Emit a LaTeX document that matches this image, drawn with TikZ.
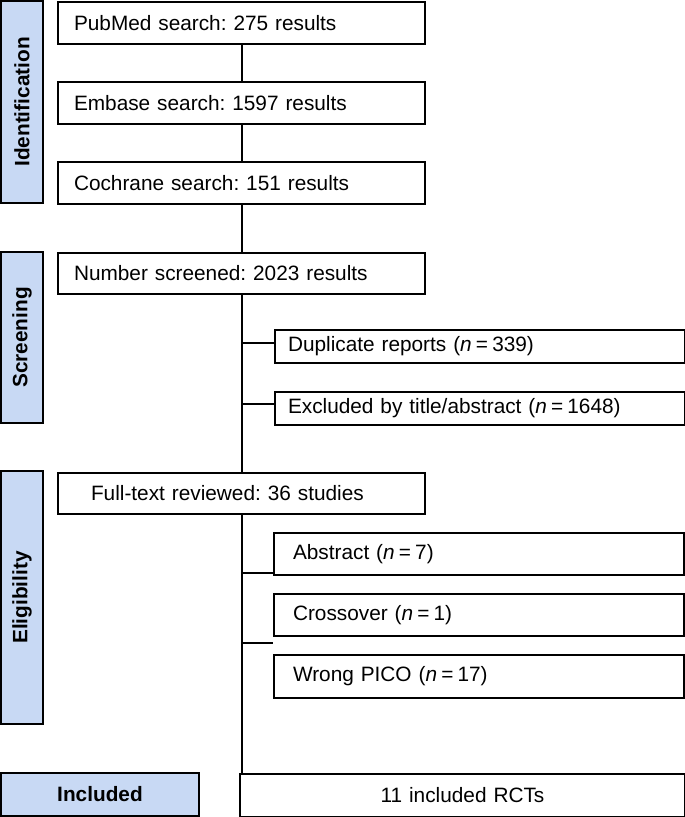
\documentclass[tikz,border=0pt]{standalone}
\usepackage{fontspec}
\setmainfont{Liberation Sans}
\frenchspacing
\definecolor{barblue}{RGB}{200,217,244}
\newcommand{\fs}{\fontsize{20.8}{25}\selectfont}
\newcommand{\nn}[1]{(\textit{n}\kern0.2em=\kern0.2em#1)}
\begin{document}
\begin{tikzpicture}[x=1pt,y=-1pt,line width=2pt,
  tbox/.style={draw=black,fill=white,rectangle,anchor=north west,inner ysep=0pt,align=left,font=\fs},
  sidebar/.style={draw=black,fill=barblue,rectangle,inner sep=0pt,font=\fs\bfseries}]
\useasboundingbox (0,0) rectangle (685,817);
% side bars
\node[sidebar,rotate=90,minimum width=202,minimum height=42] (ident) at (22,102) {Identification};
\node[sidebar,rotate=90,minimum width=171,minimum height=42] (scrn) at (22,337.5) {Screening};
\node[sidebar,rotate=90,minimum width=253,minimum height=42] (elig) at (22,597.5) {Eligibility};
\node[sidebar,minimum width=198,minimum height=43] (incl) at (100,794.5) {Included};
% main boxes
\node[tbox,minimum height=42,inner xsep=16pt,text width=335pt] (pub) at (57,1) {PubMed search: 275 results};
\node[tbox,minimum height=42,inner xsep=16pt,text width=335pt] (emb) at (57,81) {Embase search: 1597 results};
\node[tbox,minimum height=42,inner xsep=16pt,text width=335pt] (coch) at (57,161) {Cochrane search: 151 results};
\node[tbox,minimum height=41,inner xsep=16pt,text width=335pt] (scr) at (57,252) {Number screened: 2023 results};
\node[tbox,minimum height=33,inner xsep=13pt,text width=384pt] (dup) at (274,329) {Duplicate reports \nn{339}};
\node[tbox,minimum height=33,inner xsep=13pt,text width=384pt] (exc) at (274,391) {Excluded by title/abstract \nn{1648}};
\node[tbox,minimum height=41,inner xsep=33pt,text width=301pt] (full) at (57,472) {Full-text reviewed: 36 studies};
\node[tbox,minimum height=42,inner xsep=19pt,text width=372pt] (abs) at (273,532) {Abstract \nn{7}};
\node[tbox,minimum height=42,inner xsep=19pt,text width=372pt] (cross) at (273,593) {Crossover \nn{1}};
\node[tbox,minimum height=43,inner xsep=19pt,text width=372pt] (wrong) at (273,654) {Wrong PICO \nn{17}};
\node[tbox,minimum height=43,inner xsep=16pt,text width=413pt,align=center] (rct) at (239,773) {11 included RCTs};
% trunk
\draw (pub) -- (emb);
\draw (emb) -- (coch);
\draw (coch) -- (scr);
\draw (scr) -- (full);
\draw (full.south) -- (full.south |- rct.north);
% side connectors
\coordinate (dupc) at ([yshift=3.5pt]dup.west);
\coordinate (excc) at ([yshift=4.5pt]exc.west);
\coordinate (absc) at ([yshift=3pt]abs.south west);
\coordinate (xstub) at (273,643);
\draw (full.south |- dupc) -- (dupc);
\draw (full.south |- excc) -- (excc);
\draw (full.south |- absc) -- (absc);
\draw (full.south |- xstub) -- (xstub);
\end{tikzpicture}
\end{document}
